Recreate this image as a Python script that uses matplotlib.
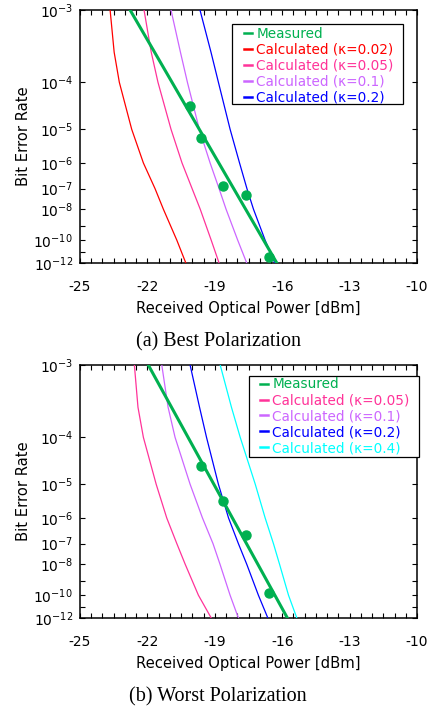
#!/usr/bin/env python3
"""
BER vs received optical power: measured vs calculated (crosstalk kappa)
for the best and worst polarization states.
"""

import math
import numpy as np
import matplotlib
matplotlib.use("Agg")
import matplotlib.pyplot as plt
from matplotlib.patches import Rectangle

plt.rcParams['font.family'] = ['DejaVu Sans']
plt.rcParams['axes.unicode_minus'] = False

# -----------------------------------------------------------------------------
# Data
# -----------------------------------------------------------------------------
ber_levels = [1e-3, 3e-4, 1e-4, 1e-5, 1e-6, 1e-7, 1e-8, 1e-10, 1e-12]

# (a) Best polarization
best_k002 = [-23.66, -23.48, -23.25, -22.70, -22.18, -21.66, -21.29, -20.69, -20.29]
best_k005 = [-22.15, -21.83, -21.53, -20.95, -20.46, -20.01, -19.65, -19.16, -18.81]
best_k01 = [-20.95, -20.53, -20.22, -19.69, -19.21, -18.81, -18.50, -17.98, -17.58]
best_k02 = [-19.66, -19.17, -18.84, -18.32, -17.90, -17.57, -17.28, -16.76, -16.33]
best_fit_power = [-22.77, -16.24]
best_meas_power = [-20.10, -19.60, -18.62, -17.61, -16.61]
best_meas_ber = [3.4e-5, 6.0e-6, 1.3e-7, 5.1e-8, 3.8e-12]

# (b) Worst polarization
worst_k005 = [-22.58, -22.42, -22.18, -21.61, -21.14, -20.69, -20.32, -19.73, -19.16]
worst_k01 = [-21.36, -21.08, -20.77, -20.10, -19.55, -19.08, -18.77, -18.32, -17.95]
worst_k02 = [-20.10, -19.68, -19.37, -18.84, -18.39, -17.95, -17.58, -17.06, -16.64]
worst_k04 = [-18.76, -18.26, -17.87, -17.20, -16.76, -16.39, -16.12, -15.72, -15.35]
worst_fit_power = [-21.96, -15.77]
worst_meas_power = [-19.61, -18.62, -17.62, -16.61]
worst_meas_ber = [2.7e-5, 3.4e-6, 2.4e-7, 1.4e-10]

fit_ber = [1e-3, 1e-12]

y_tick_exps = [3, 4, 5, 6, 7, 8, 10, 12]
x_ticks = [-25, -22, -19, -16, -13, -10]

# -----------------------------------------------------------------------------
# BER axis scale: Q-factor based (axis linear in Q^-0.8)
# -----------------------------------------------------------------------------
_P = 0.8


def _q_of_ber(b):
    if not b < 0.5:
        return 1e-3
    lo, hi = 0.0, 40.0
    for _ in range(60):
        mid = 0.5 * (lo + hi)
        if 0.5 * math.erfc(mid / math.sqrt(2)) > b:
            lo = mid
        else:
            hi = mid
    return max(0.5 * (lo + hi), 1e-3)


_q_vec = np.vectorize(_q_of_ber, otypes=[float])
_ber_vec = np.vectorize(lambda q: 0.5 * math.erfc(q / math.sqrt(2)), otypes=[float])


def ber_forward(b):
    b = np.clip(np.asarray(b, dtype=float), 1e-300, 1.0)
    return _q_vec(b) ** (-_P)


def ber_inverse(t):
    t = np.clip(np.asarray(t, dtype=float), 1e-6, None)
    return _ber_vec(t ** (-1.0 / _P))


# -----------------------------------------------------------------------------
# Plotting
# -----------------------------------------------------------------------------
GREEN = '#00b050'
RED = '#ff0000'
PINK = '#ff3399'
VIOLET = '#cc66ff'
BLUE = '#0000ff'
CYAN = '#00ffff'


def setup_axes(ax):
    ax.set_yscale('function', functions=(ber_forward, ber_inverse))
    ax.set_xlim(-25, -10)
    ax.set_ylim(1e-12, 1e-3)
    ax.set_xticks(x_ticks)
    ax.set_xticks(np.arange(-25, -9.9, 0.5), minor=True)
    ax.set_yticks([10.0 ** -e for e in y_tick_exps])
    ax.set_yticklabels([r'$10^{-%d}$' % e for e in y_tick_exps])
    ax.set_yticks([1e-9, 1e-11], minor=True)
    ax.yaxis.set_minor_formatter(matplotlib.ticker.NullFormatter())
    ax.tick_params(which='both', direction='in', top=True, right=True,
                   length=3.5, width=0.8, labelsize=10)
    ax.tick_params(axis='x', pad=12.5)
    ax.tick_params(axis='y', pad=5)
    for s in ax.spines.values():
        s.set_linewidth(1.1)
    ax.set_xlabel('Received Optical Power [dBm]', fontsize=10.6, labelpad=5)
    ax.set_ylabel('Bit Error Rate', fontsize=10.6, labelpad=2)


def draw_panel(ax, curves, fit_power, meas_power, meas_ber, legend_xy, frame_box):
    ax.plot(fit_power, fit_ber, color=GREEN, lw=2.2, label='Measured', zorder=4)
    ax.plot(meas_power, meas_ber, 'o', color=GREEN, ms=6.5, zorder=5)
    for pw, color, label in curves:
        ax.plot(pw, ber_levels, color=color, lw=0.9, label=label, zorder=3)
    leg = ax.legend(loc='upper left', bbox_to_anchor=legend_xy, fontsize=9.8,
                    handlelength=0.6, handletextpad=0.3, labelspacing=0.14,
                    borderpad=0, borderaxespad=0, frameon=False,
                    labelcolor='linecolor')
    leg.set_zorder(7)
    for h in leg.get_lines():
        h.set_linewidth(1.8)
    # legend frame, drawn separately so the padding can differ per side
    x0, y0, x1, y1 = frame_box
    ax.add_patch(Rectangle((x0, y0), x1 - x0, y1 - y0, transform=ax.transAxes,
                           facecolor='white', edgecolor='black', lw=0.9,
                           clip_on=False, zorder=6))


def main():
    fig = plt.figure(figsize=(4.36, 7.11), dpi=100)
    ax1 = fig.add_axes([0.1835, 0.6301, 0.773, 0.3558])
    ax2 = fig.add_axes([0.1835, 0.1308, 0.773, 0.3558])

    setup_axes(ax1)
    draw_panel(ax1, [
        (best_k002, RED, 'Calculated (κ=0.02)'),
        (best_k005, PINK, 'Calculated (κ=0.05)'),
        (best_k01, VIOLET, 'Calculated (κ=0.1)'),
        (best_k02, BLUE, 'Calculated (κ=0.2)'),
    ], best_fit_power, best_meas_power, best_meas_ber,
        (0.487, 0.933), (0.452, 0.630, 0.959, 0.946))

    setup_axes(ax2)
    draw_panel(ax2, [
        (worst_k005, PINK, 'Calculated (κ=0.05)'),
        (worst_k01, VIOLET, 'Calculated (κ=0.1)'),
        (worst_k02, BLUE, 'Calculated (κ=0.2)'),
        (worst_k04, CYAN, 'Calculated (κ=0.4)'),
    ], worst_fit_power, worst_meas_power, worst_meas_ber,
        (0.534, 0.951), (0.501, 0.635, 1.007, 0.958))

    # Captions
    fig.text(0.5, 1 - 341.7 / 711, '(a) Best Polarization', ha='center', va='center',
             family='Liberation Serif', fontsize=14.5)
    fig.text(0.5, 1 - 696.7 / 711, '(b) Worst Polarization', ha='center', va='center',
             family='Liberation Serif', fontsize=14.5)

    fig.savefig('out.png', dpi=100)
    plt.close(fig)


if __name__ == "__main__":
    main()
